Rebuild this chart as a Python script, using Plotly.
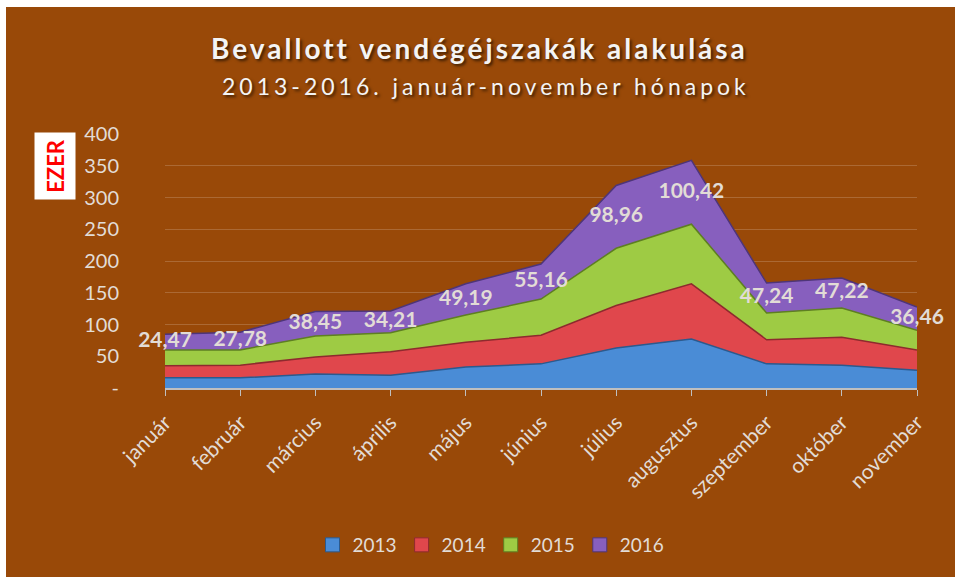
import plotly.graph_objects as go

months = ["január", "február", "március", "április", "május", "június",
          "július", "augusztus", "szeptember", "október", "november"]
years = ["2013", "2014", "2015", "2016"]
v2013 = [16, 16, 22, 20, 33, 38, 63, 77, 38, 36, 28]
v2014 = [19, 20, 27, 37, 39, 45, 67, 87, 38, 44, 32]
v2015 = [25, 24, 33, 30, 43, 57, 90, 94, 42, 46, 31]
v2016 = [24.47, 27.78, 38.45, 34.21, 49.19, 55.16, 98.96, 100.42, 47.24, 47.22, 36.46]
series = [v2013, v2014, v2015, v2016]
fills = ["#4A8CD6", "#E0474C", "#9ECB44", "#875FBE"]
lines = ["#2B5A8E", "#8E2A2E", "#5E7F22", "#4E3578"]
ytick_vals = [0, 50, 100, 150, 200, 250, 300, 350, 400]
ytick_text = ["-", "50", "100", "150", "200", "250", "300", "350", "400"]

BG = "#994908"
TXT = "#E2DCD6"
FONT = "Lato"

W, H = 955, 577
L, R, T, B = 165, 38, 134, 189
pw, ph = W - L - R, H - T - B


def px(xp):
    return (xp - L) / pw


def py(yp):
    return (H - B - yp) / ph


fig = go.Figure()
for name, vals, fc, lc in zip(years, series, fills, lines):
    fig.add_trace(go.Scatter(
        x=months, y=vals, name=name, stackgroup="one", mode="lines",
        line=dict(color=lc, width=1.5), fillcolor=fc, showlegend=False,
    ))

# legend entries with square swatches
for name, fc, lc in zip(years, fills, lines):
    fig.add_trace(go.Scatter(
        x=[None], y=[None], name=name, mode="markers",
        marker=dict(symbol="square", size=14, color=fc, line=dict(color=lc, width=1)),
    ))

cum15 = [a + b + c for a, b, c in zip(v2013, v2014, v2015)]
label_y = [c + d / 2 for c, d in zip(cum15, v2016)]
label_txt = [f"{d:.2f}".replace(".", ",") for d in v2016]
fig.add_trace(go.Scatter(
    x=months, y=label_y, mode="text", text=label_txt, showlegend=False,
    textposition="middle center", cliponaxis=False,
    textfont=dict(family=FONT, size=21, color=TXT, weight="bold"),
))

fig.update_layout(
    width=W, height=H, margin=dict(l=L, r=R, t=T, b=B),
    paper_bgcolor=BG, plot_bgcolor=BG,
    font=dict(family=FONT, color=TXT),
    showlegend=True,
    legend=dict(orientation="h", x=px(491), y=py(545), xanchor="center",
                yanchor="middle", font=dict(size=19, color=TXT),
                bgcolor="rgba(0,0,0,0)", traceorder="normal", itemwidth=30),
    xaxis=dict(range=[0, 10], showgrid=False, showline=True, linecolor="#BFBFBF",
               linewidth=2, ticks="outside", ticklen=6, tickcolor="#BFBFBF",
               tickangle=-45, tickfont=dict(size=21, color=TXT), zeroline=False,
               ticklabelstandoff=6),
    yaxis=dict(range=[0, 400], tickvals=ytick_vals, ticktext=ytick_text,
               showgrid=True, gridcolor="rgba(255,255,255,0.18)", gridwidth=1,
               zeroline=False, showline=False, ticks="",
               ticklabelstandoff=45, tickfont=dict(size=20, color=TXT)),
    annotations=[
        dict(text="<span style='letter-spacing:3px'>Bevallott vendégéjszakák alakulása</span>",
             x=px(479), y=py(48),
             xref="paper", yref="paper", showarrow=False, xanchor="center", yanchor="middle",
             font=dict(family=FONT, size=28, color="#F4F4F4", weight="bold",
                       shadow="2px 2px 3px rgba(0,0,0,0.6)")),
        dict(text="<span style='letter-spacing:4px'>2013-2016. január-november hónapok</span>",
             x=px(486), y=py(86),
             xref="paper", yref="paper", showarrow=False, xanchor="center", yanchor="middle",
             font=dict(family=FONT, size=23, color="#F4F4F4",
                       shadow="2px 2px 3px rgba(0,0,0,0.6)")),
        dict(text="EZER", x=px(55), y=py(166), xref="paper", yref="paper",
             showarrow=False, textangle=-90, bgcolor="white", width=64, height=38,
             xanchor="center", yanchor="middle",
             font=dict(family=FONT, size=22, color="#FF0000", weight="bold")),
    ],
    shapes=[
        dict(type="rect", xref="paper", yref="paper", x0=px(-5), x1=px(6),
             y0=py(H + 5), y1=py(-5), fillcolor="white", line=dict(width=0)),
        dict(type="rect", xref="paper", yref="paper", x0=px(-5), x1=px(W + 5),
             y0=py(7), y1=py(-5), fillcolor="white", line=dict(width=0)),
    ],
)

fig.write_html("out.html")
